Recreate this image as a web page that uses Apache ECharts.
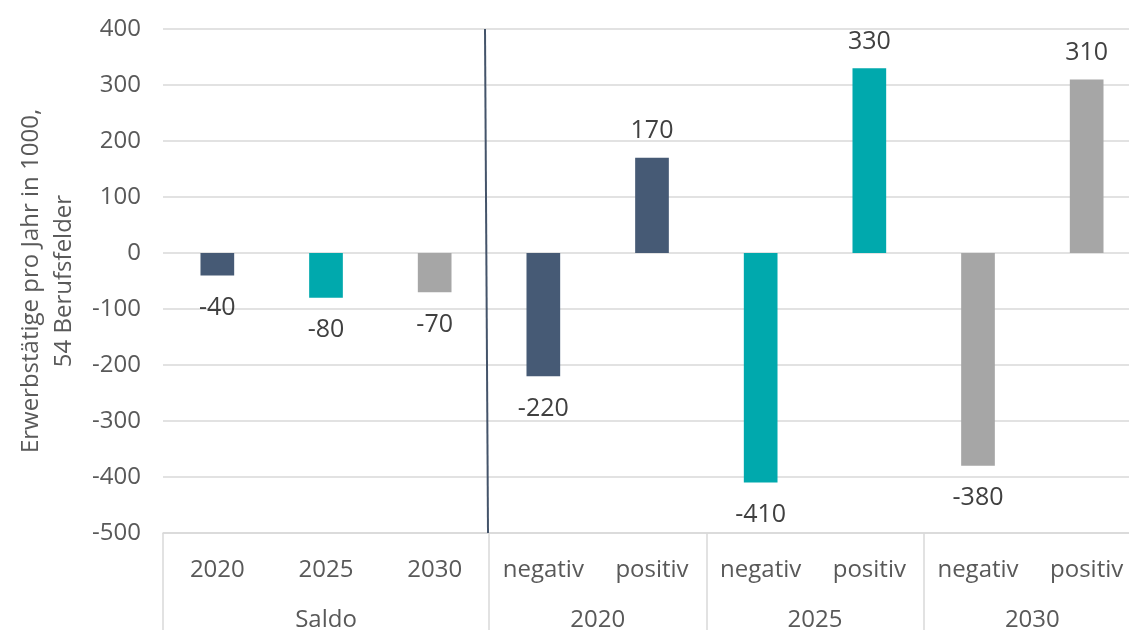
<!DOCTYPE html>
<html>
<head>
<meta charset="utf-8">
<script src="https://cdn.jsdelivr.net/npm/echarts@6/dist/echarts.min.js"></script>
<style>
  html,body{margin:0;padding:0;background:#fff;}
  #chart{width:1129px;height:630px;}
</style>
</head>
<body>
<div id="chart"></div>
<script>
// Erwerbstaetige pro Jahr, Saldo und Bewegungen
var categories=['2020','2025','2030','negativ','positiv','negativ','positiv','negativ','positiv'];
var values=[-40,-80,-70,-220,170,-410,330,-380,310];
var barColorKeys=['dark','teal','grey','dark','dark','teal','teal','grey','grey'];
var groups=['Saldo','2020','2025','2030'];
var groupSpans=[3,2,2,2];
var yMin=-500, yMax=400, yStep=100;
var yTitle='Erwerbstätige pro Jahr in 1000,\n54 Berufsfelder';

var palette={dark:'#465a75',teal:'#00a9ad',grey:'#a6a6a6'};
var font='"Open Sans", "Noto Sans", sans-serif';
var gridCol='#d9d9d9';

// group boundaries / centres in category units
var bounds=[0], centers=[];
groupSpans.forEach(function(s){
  var start=bounds[bounds.length-1];
  centers.push(start+s/2);
  bounds.push(start+s);
});

var chart=echarts.init(document.getElementById('chart'));
var option={
  animation:false,
  textStyle:{fontFamily:font},
  grid:{left:163,right:-12,top:29,bottom:97,outerBoundsMode:'none',containLabel:false},
  xAxis:[{
    type:'category',
    data:categories,
    axisLine:{onZero:false,lineStyle:{color:gridCol,width:1.5}},
    axisTick:{show:false},
    axisLabel:{color:'#595959',fontSize:24,margin:25,fontFamily:font}
  },{
    type:'value',
    min:0,max:categories.length,
    position:'bottom',
    offset:0,
    splitLine:{show:false},
    axisLine:{show:false,onZero:false},
    axisTick:{show:true,customValues:bounds,length:97,lineStyle:{color:gridCol,width:1.5}},
    axisLabel:{
      customValues:centers,
      color:'#595959',fontSize:24,margin:75,fontFamily:font,
      formatter:function(v){
        var i=centers.indexOf(v);
        return i<0?'':groups[i];
      }
    }
  }],
  yAxis:{
    type:'value',
    min:yMin,max:yMax,interval:yStep,
    name:yTitle,
    nameLocation:'middle',
    nameGap:82,
    nameRotate:90,
    nameTextStyle:{color:'#595959',fontSize:24,lineHeight:33,fontFamily:font,align:'center'},
    axisLine:{show:false},
    axisTick:{show:false},
    axisLabel:{color:'#595959',fontSize:24,margin:22,fontFamily:font},
    splitLine:{lineStyle:{color:gridCol,width:1.5}}
  },
  series:[{
    type:'bar',
    xAxisIndex:0,
    barWidth:'31%',
    data:values.map(function(v,i){
      return {
        value:v,
        itemStyle:{color:palette[barColorKeys[i]]},
        label:v<0?{position:'bottom',distance:20}:{position:'top',distance:14}
      };
    }),
    label:{show:true,color:'#404040',fontSize:25,fontFamily:font}
  }]
};
chart.setOption(option);

// dividing line between Saldo and the yearly groups
var pA=chart.convertToPixel({xAxisIndex:0},bounds[1]-1);
var pB=chart.convertToPixel({xAxisIndex:0},bounds[1]);
var xSep=(pA+pB)/2;
var yTop=chart.convertToPixel({yAxisIndex:0},yMax);
var yBot=chart.convertToPixel({yAxisIndex:0},yMin);
chart.setOption({
  graphic:[{
    type:'line',
    shape:{x1:xSep-4,y1:yTop,x2:xSep-1,y2:yBot},
    style:{stroke:'#44546a',lineWidth:2},
    z:10
  }]
});
</script>
</body>
</html>
